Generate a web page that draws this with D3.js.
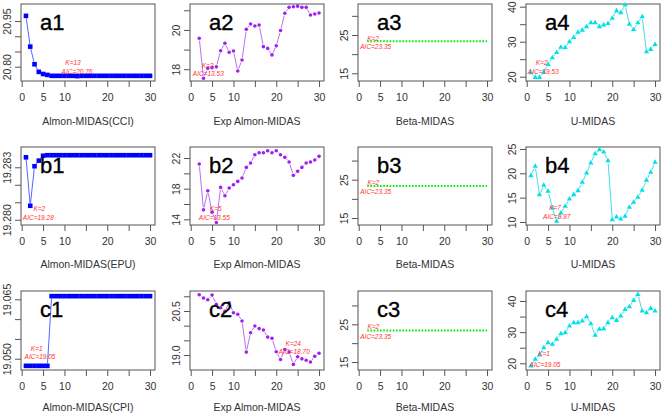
<!DOCTYPE html>
<html>
<head>
<meta charset="utf-8">
<script src="https://cdn.jsdelivr.net/npm/d3@7"></script>
<style>
  body { margin: 0; background: #fff; }
  svg { display: block; font-family: "Liberation Sans", Arial, sans-serif; }
</style>
</head>
<body>
<div id="chart"></div>
<script>
// lag orders K
const lagsK = [1,2,3,4,5,6,7,8,9,10,11,12,13,14,15,16,17,18,19,20,21,22,23,24,25,26,27,28,29,30];
const lagsK2 = [2,3,4,5,6,7,8,9,10,11,12,13,14,15,16,17,18,19,20,21,22,23,24,25,26,27,28,29,30];

const xTicks = [0, 5, 10, 15, 20, 25, 30];
const xTickLabels = ["0", "5", "10", "", "20", "", "30"];

// row a
const almonCCI = [20.967,20.866,20.808,20.783,20.776,20.773,20.770,20.770,20.770,20.770,20.770,20.770,20.769,20.770,20.770,
  20.770,20.770,20.770,20.770,20.770,20.770,20.770,20.770,20.770,20.770,20.770,20.770,20.770,20.770,20.770];
const expAlmonA = [19.58,17.54,18.05,18.08,18.12,18.94,19.32,18.86,18.93,17.91,18.47,20.03,20.30,20.20,20.25,
  19.15,19.06,18.73,19.19,19.97,20.85,21.15,21.18,21.21,21.15,21.15,20.76,20.81,20.86];
const betaA = [23.35,23.35,23.35,23.35,23.35,23.35,23.35,23.35,23.35,23.35,23.35,23.35,23.35,23.35,23.35,
  23.35,23.35,23.35,23.35,23.35,23.35,23.35,23.35,23.35,23.35,23.35,23.35,23.35,23.35];
const uMidasA = [21.1,19.8,19.8,21.3,23.5,25.4,26.9,28.4,28.3,30.0,31.2,32.7,33.3,34.3,35.4,
  35.4,34.3,34.8,35.2,36.7,38.8,38.3,40.5,35.0,33.5,35.4,37.1,27.1,27.8,29.2];

// row b
const almonEPU = [19.28357,19.28080,19.28306,19.28338,19.28366,19.28369,19.28369,19.28369,19.28369,19.28369,
  19.28369,19.28369,19.28369,19.28369,19.28369,19.28369,19.28369,19.28369,19.28369,19.28369,
  19.28369,19.28369,19.28369,19.28369,19.28369,19.28369,19.28369,19.28369,19.28369,19.28369];
const expAlmonB = [21.22,15.24,17.73,14.94,13.59,18.17,17.07,18.08,18.51,18.95,19.39,20.78,21.35,22.43,22.69,
  22.69,22.95,22.69,22.95,22.43,22.09,21.48,19.74,20.26,20.78,21.35,21.48,21.74,22.22];
const betaB = [23.35,23.35,23.35,23.35,23.35,23.35,23.35,23.35,23.35,23.35,23.35,23.35,23.35,23.35,23.35,
  23.35,23.35,23.35,23.35,23.35,23.35,23.35,23.35,23.35,23.35,23.35,23.35,23.35,23.35];
const uMidasB = [19.52,21.44,15.62,17.54,16.31,12.89,10.15,11.86,13.23,14.73,15.62,16.44,18.16,20.07,22.12,
  24.04,24.86,24.38,22.60,10.48,11.04,10.63,11.18,13.03,14.06,15.08,16.52,18.57,20.21,22.27];

// row c
const almonCPI = [19.0482,19.0482,19.0482,19.0482,19.0482,19.0482,19.0658,19.0658,19.0658,19.0658,
  19.0658,19.0658,19.0658,19.0658,19.0658,19.0658,19.0658,19.0658,19.0658,19.0658,
  19.0658,19.0658,19.0658,19.0658,19.0658,19.0658,19.0658,19.0658,19.0658,19.0658];
const expAlmonC = [21.05,20.94,20.88,21.04,20.73,20.61,20.49,20.78,20.44,20.39,20.16,19.10,19.76,19.99,19.90,
  19.85,19.61,19.57,19.11,18.85,19.19,19.10,18.68,18.94,18.87,18.82,18.76,18.96,19.06];
const betaC = [23.35,23.35,23.35,23.35,23.35,23.35,23.35,23.35,23.35,23.35,23.35,23.35,23.35,23.35,23.35,
  23.35,23.35,23.35,23.35,23.35,23.35,23.35,23.35,23.35,23.35,23.35,23.35,23.35,23.35];
const uMidasC = [19.13,21.28,22.66,25.00,26.60,26.09,27.69,29.49,29.81,31.96,33.03,33.03,33.56,34.94,32.69,
  28.97,30.90,31.09,33.03,34.62,33.78,35.16,37.30,38.14,40.19,42.11,36.76,36.22,37.63,36.76];

const panels = [
  { tag: "a1", row: 0, col: 0, title: "Almon-MIDAS(CCI)", kind: "almon", x: lagsK, y: almonCCI,
    ylim: [20.753, 21.006], yTicks: [20.80, 20.85, 20.90, 20.95], yLabels: [20.80, 20.95], fmt: ".2f",
    note: ["K=13", "AIC=20.76"], notePos: [[52, 58.7], [56, 67.7]] },
  { tag: "a2", row: 0, col: 1, title: "Exp Almon-MIDAS", kind: "exp", x: lagsK2, y: expAlmonA,
    ylim: [17.40, 21.32], yTicks: [18, 19, 20, 21], yLabels: [18, 20], fmt: "d",
    note: ["K=3", "AIC=13.53"], notePos: [[17.7, 61.7], [18.3, 70]] },
  { tag: "a3", row: 0, col: 2, title: "Beta-MIDAS", kind: "beta", x: lagsK2, y: betaA,
    ylim: [12.99, 33.09], yTicks: [15, 20, 25, 30], yLabels: [15, 25], fmt: "d",
    note: ["K=2", "AIC=23.35"], notePos: [[15, 34.3], [17.7, 42.7]] },
  { tag: "a4", row: 0, col: 3, title: "U-MIDAS", kind: "umidas", x: lagsK, y: uMidasA,
    ylim: [18.77, 40.77], yTicks: [20, 25, 30, 35, 40], yLabels: [20, 30, 40], fmt: "d",
    note: ["K=2", "AIC=19.53"], notePos: [[15.7, 58.7], [17.3, 67.7]] },

  { tag: "b1", row: 1, col: 0, title: "Almon-MIDAS(EPU)", kind: "almon", x: lagsK, y: almonEPU,
    ylim: [19.27970, 19.28416], yTicks: [19.280, 19.281, 19.282, 19.283], yLabels: [19.280, 19.283], fmt: ".3f",
    note: ["K=2", "AIC=19.28"], notePos: [[18.3, 62], [17.3, 71]] },
  { tag: "b2", row: 1, col: 1, title: "Exp Almon-MIDAS", kind: "exp", x: lagsK2, y: expAlmonB,
    ylim: [13.26, 23.44], yTicks: [14, 16, 18, 20, 22], yLabels: [14, 18, 22], fmt: "d",
    note: ["K=5", "AIC=13.55"], notePos: [[25.7, 62], [24.3, 71]] },
  { tag: "b3", row: 1, col: 2, title: "Beta-MIDAS", kind: "beta", x: lagsK2, y: betaB,
    ylim: [13.17, 33.54], yTicks: [15, 20, 25, 30], yLabels: [15, 25], fmt: "d",
    note: ["K=2", "AIC=23.35"], notePos: [[15.3, 35.3], [17.7, 44.3]] },
  { tag: "b4", row: 1, col: 3, title: "U-MIDAS", kind: "umidas", x: lagsK, y: uMidasB,
    ylim: [9.38, 25.41], yTicks: [10, 15, 20, 25], yLabels: [10, 15, 20, 25], fmt: "d",
    note: ["K=7", "AIC=9.97"], notePos: [[29, 61], [30.7, 70]] },

  { tag: "c1", row: 2, col: 0, title: "Almon-MIDAS(CPI)", kind: "almon", x: lagsK, y: almonCPI,
    ylim: [19.04715, 19.0671], yTicks: [19.050, 19.055, 19.060, 19.065], yLabels: [19.050, 19.065], fmt: ".3f",
    note: ["K=1", "AIC=19.05"], notePos: [[15.7, 57.7], [19, 66]] },
  { tag: "c2", row: 2, col: 1, title: "Exp Almon-MIDAS", kind: "exp", x: lagsK2, y: expAlmonC,
    ylim: [18.49, 21.18], yTicks: [19.0, 19.5, 20.0, 20.5, 21.0], yLabels: [19.0, 20.5], fmt: ".1f",
    note: ["K=24", "AIC=18.70"], notePos: [[103.3, 52.3], [104.3, 61]] },
  { tag: "c3", row: 2, col: 2, title: "Beta-MIDAS", kind: "beta", x: lagsK2, y: betaC,
    ylim: [12.88, 33.83], yTicks: [15, 20, 25, 30], yLabels: [15, 25], fmt: "d",
    note: ["K=2", "AIC=23.35"], notePos: [[15.3, 35.7], [17.7, 45.7]] },
  { tag: "c4", row: 2, col: 3, title: "U-MIDAS", kind: "umidas", x: lagsK, y: uMidasC,
    ylim: [17.85, 43.2], yTicks: [20, 25, 30, 35, 40], yLabels: [20, 30, 40], fmt: "d",
    note: ["K=1", "AIC=19.05"], notePos: [[18, 62.7], [19, 73.3]] }
];

const styles = {
  almon:  { color: "#0000ff", line: "#5566ff" },
  exp:    { color: "#a020f0", line: "#b870f5" },
  beta:   { color: "#00ee00", line: "#00ee00" },
  umidas: { color: "#00e0e8", line: "#40e0e8" }
};

const svgW = 662, svgH = 415;
const colLeft = [21, 190, 358, 526];
const boxW = 134;
const rowTop = [4, 147, 291];
const rowH = [77, 78, 79];
const titleOff = [40, 39, 37];
const textCol = "#333";
const axisCol = "#555";

const svg = d3.select("#chart").append("svg")
  .attr("width", svgW)
  .attr("height", svgH);

// R type="b": line segments stop short of the points
function gapped(pts, gap) {
  const segs = [];
  for (let i = 1; i < pts.length; i++) {
    const [x1, y1] = pts[i - 1], [x2, y2] = pts[i];
    const L = Math.hypot(x2 - x1, y2 - y1);
    if (L <= 2 * gap) continue;
    const ux = (x2 - x1) / L, uy = (y2 - y1) / L;
    segs.push([x1 + ux * gap, y1 + uy * gap, x2 - ux * gap, y2 - uy * gap]);
  }
  return segs;
}

panels.forEach(p => {
  const h = rowH[p.row];
  const g = svg.append("g")
    .attr("transform", `translate(${colLeft[p.col]}, ${rowTop[p.row]})`);

  const x = d3.scaleLinear().domain([-0.16, 31.16]).range([0, boxW]);
  const y = d3.scaleLinear().domain(p.ylim).range([h, 0]);
  const st = styles[p.kind];
  const pts = p.x.map((k, i) => [x(k), y(p.y[i])]);

  // x axis
  const xa = g.append("g")
    .attr("transform", `translate(0, ${h})`)
    .call(d3.axisBottom(x).tickValues(xTicks).tickSize(6).tickPadding(7)
      .tickFormat((d, i) => xTickLabels[i]));
  xa.select(".domain").remove();
  xa.selectAll("line").attr("stroke", axisCol);
  xa.selectAll("text").attr("fill", textCol).style("font-size", "10.5px")
    .style("font-family", "'Liberation Sans', Arial, sans-serif");

  // y axis with rotated labels
  const f = d3.format(p.fmt);
  const ya = g.append("g")
    .call(d3.axisLeft(y).tickValues(p.yTicks).tickSize(6)
      .tickFormat(d => p.yLabels.some(v => Math.abs(v - d) < 1e-9) ? f(d) : ""));
  ya.select(".domain").remove();
  ya.selectAll("line").attr("stroke", axisCol);
  ya.selectAll("text")
    .attr("x", 0).attr("dy", "0.35em")
    .attr("text-anchor", "middle")
    .attr("transform", "translate(-14,0) rotate(-90)")
    .attr("fill", textCol).style("font-size", "10.5px")
    .style("font-family", "'Liberation Sans', Arial, sans-serif");

  // box
  g.append("rect")
    .attr("width", boxW).attr("height", h)
    .attr("fill", "none").attr("stroke", axisCol).attr("stroke-width", 1);

  // axis title
  g.append("text")
    .attr("x", boxW / 2).attr("y", h + titleOff[p.row]).attr("dy", "0.35em")
    .attr("text-anchor", "middle")
    .attr("fill", textCol).style("font-size", "10.5px")
    .text(p.title);

  // lines
  if (p.kind === "beta") {
    g.append("path")
      .attr("d", d3.line()(pts))
      .attr("fill", "none").attr("stroke", st.line)
      .attr("stroke-width", 2).attr("stroke-dasharray", "1.6,1.6");
  } else {
    g.append("g").selectAll("line")
      .data(gapped(pts, 2.5))
      .enter().append("line")
      .attr("x1", d => d[0]).attr("y1", d => d[1])
      .attr("x2", d => d[2]).attr("y2", d => d[3])
      .attr("stroke", st.line).attr("stroke-width", 1);
  }

  // points
  const mk = g.append("g").attr("fill", st.color);
  if (p.kind === "almon") {
    mk.selectAll("rect").data(pts).enter().append("rect")
      .attr("x", d => d[0] - 2.3).attr("y", d => d[1] - 2.3)
      .attr("width", 4.6).attr("height", 4.6);
  } else if (p.kind === "exp") {
    mk.selectAll("circle").data(pts).enter().append("circle")
      .attr("cx", d => d[0]).attr("cy", d => d[1]).attr("r", 1.8);
  } else if (p.kind === "umidas") {
    const tri = d3.symbol().type(d3.symbolTriangle).size(12);
    mk.selectAll("path").data(pts).enter().append("path")
      .attr("transform", d => `translate(${d[0]},${d[1]})`)
      .attr("d", tri);
  }

  // annotation
  p.note.forEach((t, i) => {
    g.append("text")
      .attr("x", p.notePos[i][0]).attr("y", p.notePos[i][1]).attr("dy", "0.35em")
      .attr("text-anchor", "middle")
      .attr("fill", "#ff3030")
      .style("font-size", "6.5px").style("font-style", "italic")
      .text(t);
  });

  // panel tag
  g.append("text")
    .attr("x", 19).attr("y", 26)
    .attr("fill", "#000")
    .attr("stroke", "#000").attr("stroke-width", 0.35)
    .style("font-size", "22px")
    .text(p.tag);
});
</script>
</body>
</html>
